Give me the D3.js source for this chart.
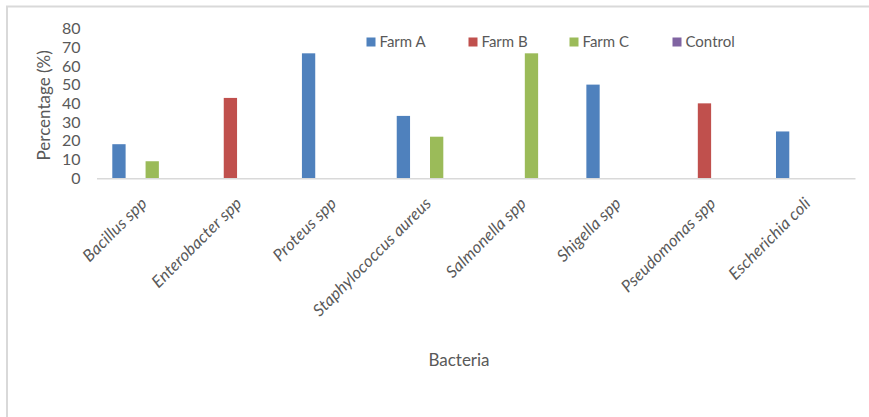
<!DOCTYPE html>
<html>
<head>
<meta charset="utf-8">
<script src="https://cdn.jsdelivr.net/npm/d3@7/dist/d3.min.js"></script>
<style>
  html, body { margin: 0; padding: 0; background: #fff; }
  svg { display: block; }
</style>
</head>
<body>
<svg id="chart" width="869" height="417"></svg>
<script>
// Bacteria isolated per farm (percentage)
const categories = ["Bacillus spp", "Enterobacter spp", "Proteus spp", "Staphylococcus aureus",
                    "Salmonella spp", "Shigella spp", "Pseudomonas spp", "Escherichia coli"];
const seriesNames = ["Farm A", "Farm B", "Farm C", "Control"];
const farmA   = [18.2, 0, 66.7, 33.3, 0, 50, 0, 25];
const farmB   = [0, 42.9, 0, 0, 0, 0, 40, 0];
const farmC   = [9.1, 0, 0, 22.2, 66.7, 0, 0, 0];
const control = [0, 0, 0, 0, 0, 0, 0, 0];
const yTicks  = [0, 10, 20, 30, 40, 50, 60, 70, 80];
const colors  = ["#4f81bd", "#c0504d", "#9bbb59", "#8064a2"];

const seriesValues = [farmA, farmB, farmC, control];
const svg = d3.select("#chart");
const textColor = "#595959";
const font = "Lato, 'Open Sans', sans-serif";

// chart frame
svg.append("line").attr("x1", 6).attr("x2", 869).attr("y1", 6.5).attr("y2", 6.5)
  .attr("stroke", "#d9d9d9").attr("stroke-width", 2);
svg.append("line").attr("x1", 7).attr("x2", 7).attr("y1", 6).attr("y2", 417)
  .attr("stroke", "#d9d9d9").attr("stroke-width", 2);

const plot = { left: 96.5, right: 855, top: 28.4, bottom: 178.3 };

const x = d3.scaleBand().domain(categories).range([plot.left, plot.right]);
const x1 = d3.scaleBand().domain(seriesNames).range([0, x.bandwidth()])
  .paddingInner(0.2).paddingOuter(0.95);
const y = d3.scaleLinear().domain([0, 80]).range([plot.bottom, plot.top]);

// bars
seriesNames.forEach((name, si) => {
  svg.append("g").selectAll("rect")
    .data(seriesValues[si].map((v, i) => ({ cat: categories[i], v })))
    .join("rect")
    .filter(d => d.v > 0)
    .attr("x", d => x(d.cat) + x1(name))
    .attr("width", x1.bandwidth())
    .attr("y", d => y(d.v))
    .attr("height", d => y(0) - y(d.v))
    .attr("fill", colors[si]);
});

// y axis (labels only)
const yAxis = svg.append("g")
  .attr("transform", `translate(${plot.left},0)`)
  .call(d3.axisLeft(y).tickValues(yTicks).tickSize(0).tickPadding(16));
yAxis.select(".domain").remove();
yAxis.selectAll("text").attr("fill", textColor).style("font-family", font).style("font-size", "16px");

// x axis baseline and rotated labels
const xAxis = svg.append("g")
  .attr("transform", `translate(0,${plot.bottom})`)
  .call(d3.axisBottom(x).tickSize(0));
xAxis.select(".domain").attr("stroke", "#d9d9d9").attr("stroke-width", 1.5);
xAxis.selectAll("text")
  .attr("fill", textColor)
  .style("font-family", font)
  .style("font-style", "italic")
  .style("font-size", "16.5px")
  .style("letter-spacing", "0.2px")
  .attr("text-anchor", "end")
  .attr("dy", "0.35em")
  .attr("transform", "translate(0,22) rotate(-45)")
  .attr("y", 0)
  .attr("x", 0);

// axis titles
svg.append("text")
  .attr("transform", `translate(50,${(plot.top + plot.bottom) / 2 + 2}) rotate(-90)`)
  .attr("text-anchor", "middle")
  .attr("fill", textColor)
  .style("font-family", font)
  .style("font-size", "17px")
  .text("Percentage (%)");

svg.append("text")
  .attr("x", 459).attr("y", 366)
  .attr("text-anchor", "middle")
  .attr("fill", textColor)
  .style("font-family", font)
  .style("font-size", "17px")
  .text("Bacteria");

// legend
const legendX = [366.5, 468.5, 569.5, 672.5];
const legend = svg.append("g").selectAll("g")
  .data(seriesNames)
  .join("g")
  .attr("transform", (d, i) => `translate(${legendX[i]},42)`);
legend.append("rect").attr("x", 0).attr("y", -4.5).attr("width", 9).attr("height", 9)
  .attr("fill", (d, i) => colors[i]);
legend.append("text").attr("x", 13).attr("y", 0).attr("dy", "0.35em")
  .attr("fill", textColor)
  .style("font-family", font)
  .style("font-size", "15px")
  .text(d => d);
</script>
</body>
</html>
